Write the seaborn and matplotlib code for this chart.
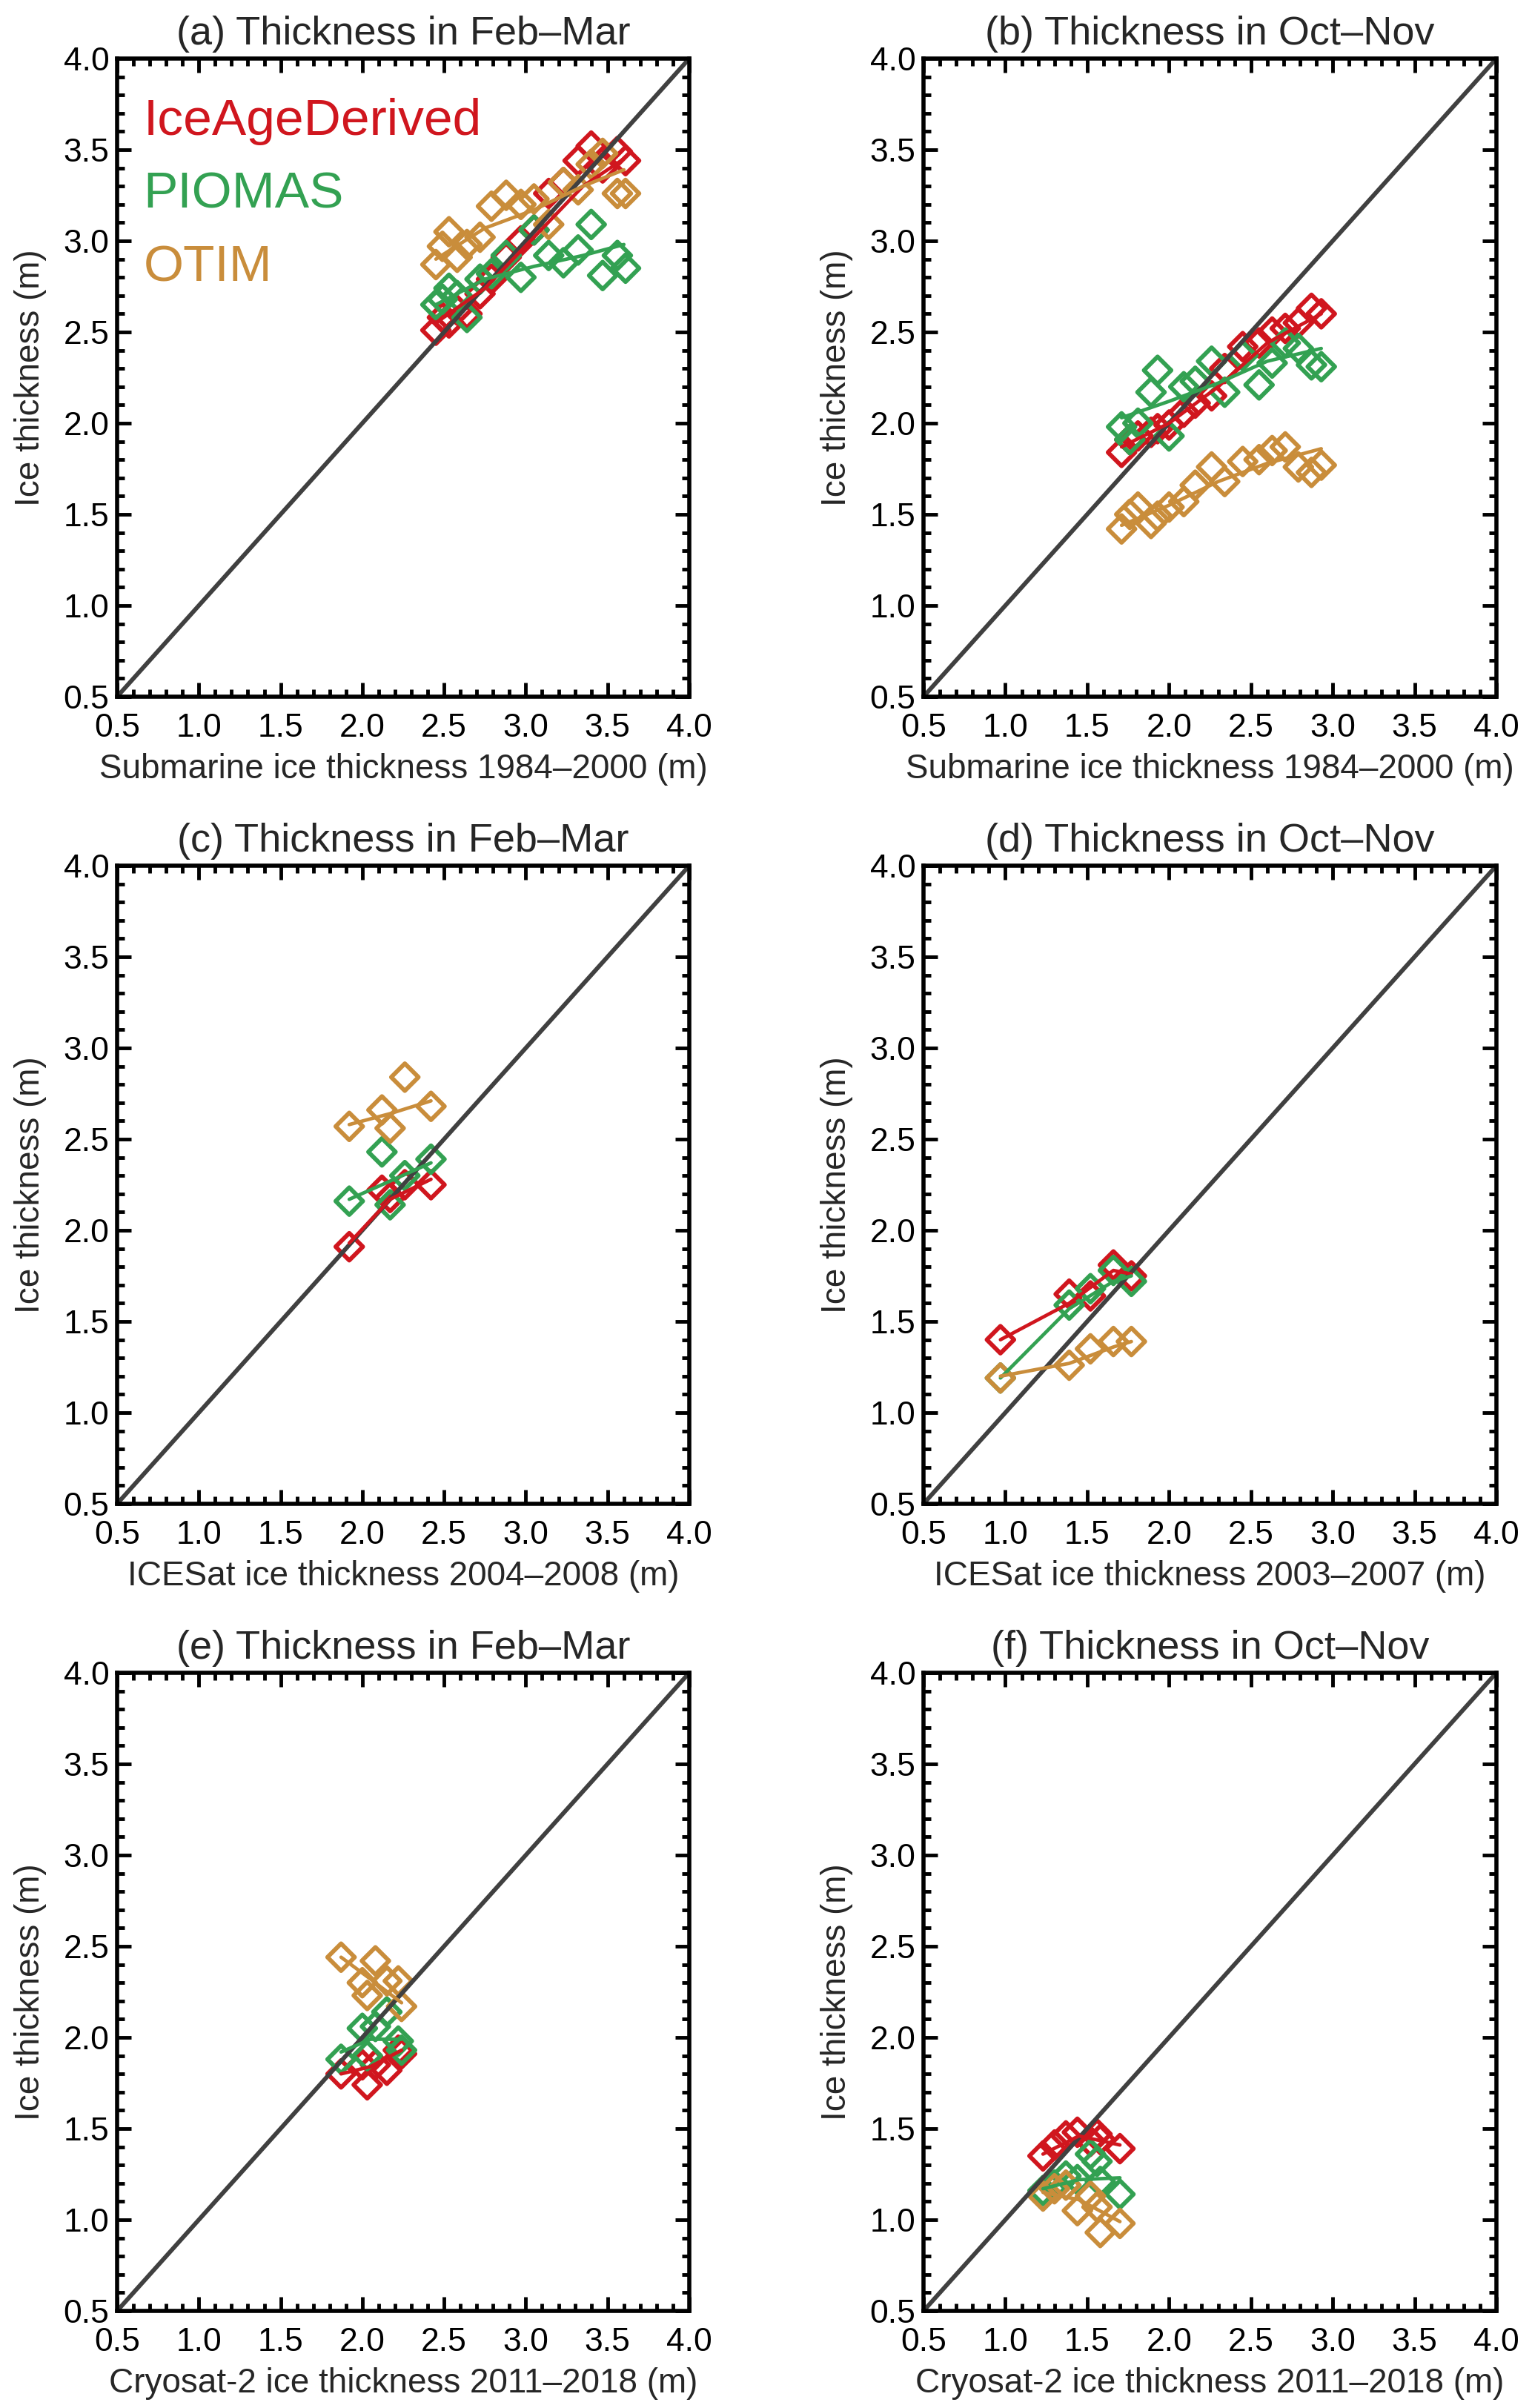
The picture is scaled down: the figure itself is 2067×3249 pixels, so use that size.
import pandas as pd
import matplotlib
matplotlib.use("Agg")
import matplotlib.pyplot as plt
from matplotlib.ticker import MultipleLocator
from matplotlib.transforms import ScaledTranslation
import seaborn as sns

# ==============================
# Data
# ==============================

model_names = ["IceAgeDerived", "PIOMAS", "OTIM"]
model_colors = ["#D0161E", "#33A152", "#C98D3B"]

# (a) submarine, Feb-Mar
a_obs = [2.45, 2.49, 2.53, 2.58, 2.64, 2.72, 2.79, 2.88, 2.97, 3.05, 3.14, 3.23, 3.32, 3.40, 3.47, 3.56, 3.61]
a_iceage = [2.51, 2.58, 2.55, 2.62, 2.60, 2.71, 2.79, 2.91, 3.00, 3.06, 3.26, 3.32, 3.44, 3.52, 3.40, 3.49, 3.44]
a_piomas = [2.65, 2.68, 2.74, 2.70, 2.58, 2.79, 2.82, 2.92, 2.80, 3.06, 2.92, 2.88, 2.95, 3.09, 2.81, 2.92, 2.85]
a_otim = [2.87, 2.97, 3.05, 2.91, 2.98, 3.02, 3.19, 3.25, 3.20, 3.23, 3.09, 3.32, 3.28, 3.42, 3.48, 3.26, 3.26]
a_fit_x = [2.45, 2.75, 3.05, 3.35, 3.60]
a_fit_iceage = [2.55, 2.74, 3.02, 3.30, 3.45]
a_fit_piomas = [2.65, 2.79, 2.86, 2.92, 2.98]
a_fit_otim = [2.90, 3.07, 3.17, 3.30, 3.39]

# (b) submarine, Oct-Nov
b_obs = [1.71, 1.76, 1.81, 1.89, 1.93, 2.00, 2.09, 2.16, 2.26, 2.34, 2.45, 2.55, 2.63, 2.71, 2.79, 2.87, 2.93]
b_iceage = [1.84, 1.91, 1.93, 1.95, 1.97, 1.99, 2.06, 2.11, 2.15, 2.30, 2.42, 2.44, 2.50, 2.52, 2.55, 2.63, 2.60]
b_piomas = [1.98, 1.91, 2.00, 2.17, 2.29, 1.93, 2.20, 2.23, 2.34, 2.17, 2.37, 2.21, 2.33, 2.44, 2.41, 2.32, 2.31]
b_otim = [1.42, 1.50, 1.54, 1.45, 1.49, 1.54, 1.57, 1.66, 1.76, 1.68, 1.79, 1.80, 1.85, 1.87, 1.76, 1.73, 1.77]
b_fit_x = [1.71, 2.00, 2.30, 2.60, 2.93]
b_fit_iceage = [1.87, 2.00, 2.20, 2.44, 2.60]
b_fit_piomas = [2.03, 2.12, 2.22, 2.34, 2.41]
b_fit_otim = [1.44, 1.55, 1.68, 1.78, 1.86]

# (c) ICESat, Feb-Mar
c_obs = [1.92, 2.12, 2.17, 2.26, 2.42]
c_iceage = [1.91, 2.22, 2.18, 2.25, 2.25]
c_piomas = [2.16, 2.43, 2.14, 2.30, 2.39]
c_otim = [2.57, 2.66, 2.56, 2.84, 2.68]
c_fit_x = [1.92, 2.17, 2.42]
c_fit_iceage = [1.93, 2.17, 2.28]
c_fit_piomas = [2.17, 2.27, 2.37]
c_fit_otim = [2.58, 2.64, 2.71]

# (d) ICESat, Oct-Nov
d_obs = [0.97, 1.39, 1.52, 1.66, 1.77]
d_iceage = [1.40, 1.65, 1.64, 1.81, 1.75]
d_piomas = [1.19, 1.59, 1.68, 1.78, 1.72]
d_otim = [1.19, 1.26, 1.35, 1.39, 1.39]
d_fit_x = [0.97, 1.39, 1.66, 1.77]
d_fit_iceage = [1.40, 1.60, 1.78, 1.76]
d_fit_piomas = [1.19, 1.57, 1.72, 1.75]
d_fit_otim = [1.20, 1.27, 1.36, 1.39]

# (e) Cryosat-2, Feb-Mar
e_obs = [1.87, 2.00, 2.03, 2.08, 2.15, 2.22, 2.24]
e_iceage = [1.80, 1.85, 1.74, 1.85, 1.82, 1.93, 1.91]
e_piomas = [1.88, 2.05, 1.90, 2.06, 2.14, 1.98, 1.93]
e_otim = [2.44, 2.30, 2.23, 2.42, 2.31, 2.31, 2.17]
e_fit_x = [1.87, 2.05, 2.24]
e_fit_iceage = [1.80, 1.84, 1.93]
e_fit_piomas = [1.92, 1.99, 1.99]
e_fit_otim = [2.44, 2.32, 2.19]

# (f) Cryosat-2, Oct-Nov
f_obs = [1.23, 1.30, 1.37, 1.44, 1.52, 1.56, 1.58, 1.70]
f_iceage = [1.35, 1.41, 1.46, 1.48, 1.43, 1.47, 1.44, 1.39]
f_piomas = [1.16, 1.19, 1.24, 1.22, 1.36, 1.32, 1.21, 1.14]
f_otim = [1.13, 1.17, 1.19, 1.05, 1.13, 1.07, 0.93, 0.98]
f_fit_x = [1.23, 1.45, 1.70]
f_fit_iceage = [1.36, 1.46, 1.41]
f_fit_piomas = [1.17, 1.22, 1.23]
f_fit_otim = [1.15, 1.11, 0.99]

titles = ["(a) Thickness in Feb\u2013Mar", "(b) Thickness in Oct\u2013Nov",
          "(c) Thickness in Feb\u2013Mar", "(d) Thickness in Oct\u2013Nov",
          "(e) Thickness in Feb\u2013Mar", "(f) Thickness in Oct\u2013Nov"]
xlabels = ["Submarine ice thickness 1984\u20132000 (m)", "Submarine ice thickness 1984\u20132000 (m)",
           "ICESat ice thickness 2004\u20132008 (m)", "ICESat ice thickness 2003\u20132007 (m)",
           "Cryosat-2 ice thickness 2011\u20132018 (m)", "Cryosat-2 ice thickness 2011\u20132018 (m)"]
ylabel = "Ice thickness (m)"
axis_ticks = [0.5, 1.0, 1.5, 2.0, 2.5, 3.0, 3.5, 4.0]

panels = [
    (a_obs, [a_iceage, a_piomas, a_otim], a_fit_x, [a_fit_iceage, a_fit_piomas, a_fit_otim]),
    (b_obs, [b_iceage, b_piomas, b_otim], b_fit_x, [b_fit_iceage, b_fit_piomas, b_fit_otim]),
    (c_obs, [c_iceage, c_piomas, c_otim], c_fit_x, [c_fit_iceage, c_fit_piomas, c_fit_otim]),
    (d_obs, [d_iceage, d_piomas, d_otim], d_fit_x, [d_fit_iceage, d_fit_piomas, d_fit_otim]),
    (e_obs, [e_iceage, e_piomas, e_otim], e_fit_x, [e_fit_iceage, e_fit_piomas, e_fit_otim]),
    (f_obs, [f_iceage, f_piomas, f_otim], f_fit_x, [f_fit_iceage, f_fit_piomas, f_fit_otim]),
]

# ==============================
# Style
# ==============================

sns.set_style("ticks")
plt.rcParams["font.family"] = ["Liberation Sans", "DejaVu Sans"]
plt.rcParams.update({
    "xtick.direction": "in", "ytick.direction": "in",
    "xtick.top": True, "ytick.right": True,
    "xtick.major.size": 14, "ytick.major.size": 14,
    "xtick.minor.size": 7.5, "ytick.minor.size": 7.5,
    "xtick.major.width": 3.5, "ytick.major.width": 3.5,
    "xtick.minor.width": 3.5, "ytick.minor.width": 3.5,
    "xtick.color": "black", "ytick.color": "black",
    "xtick.labelsize": 32, "ytick.labelsize": 32,
    "axes.edgecolor": "black", "axes.linewidth": 4,
})

W, H = 2067, 3249
fig = plt.figure(figsize=(W / 100, H / 100), dpi=100)

col_left = [158, 1246]
col_width = [772, 773]
row_top = [79, 1168, 2257]
row_height = 861

for i, (obs, models, fit_x, fits) in enumerate(panels):
    r, c = divmod(i, 2)
    ax = fig.add_axes([col_left[c] / W, 1 - (row_top[r] + row_height) / H,
                       col_width[c] / W, row_height / H])

    ax.axline((0.5, 0.5), slope=1, color="#404040", lw=4.2)
    for name, col, vals, fit in zip(model_names, model_colors, models, fits):
        df = pd.DataFrame({"obs": obs, "model": vals})
        sns.lineplot(x=fit_x, y=fit, color=col, lw=3.4, ax=ax)
        sns.scatterplot(data=df, x="obs", y="model", marker="D", s=350,
                        facecolor="none", edgecolor=col, color=col,
                        linewidth=4.2, ax=ax)

    ax.set_xlim(0.5, 4.0)
    ax.set_ylim(0.5, 4.0)
    ax.set_xticks(axis_ticks)
    ax.set_yticks(axis_ticks)
    ax.xaxis.set_minor_locator(MultipleLocator(0.1))
    ax.yaxis.set_minor_locator(MultipleLocator(0.1))

    # move tick labels away from the frame (ticks point inward)
    for lab in ax.get_xticklabels():
        lab.set_transform(lab.get_transform() + ScaledTranslation(0, -12 / 72, fig.dpi_scale_trans))
    for lab in ax.get_yticklabels():
        lab.set_transform(lab.get_transform() + ScaledTranslation(-4 / 72, 0, fig.dpi_scale_trans))

    ax.set_title(titles[i], fontsize=39, pad=14)
    ax.set_xlabel(xlabels[i], fontsize=33, labelpad=10)
    ax.set_ylabel(ylabel, fontsize=33, labelpad=16)

    if i == 0:
        for k, (name, col) in enumerate(zip(model_names, model_colors)):
            ax.text(0.66, 3.58 - 0.40 * k, name, color=col, fontsize=50,
                    ha="left", va="baseline")

fig.savefig("out.png", dpi=100)
